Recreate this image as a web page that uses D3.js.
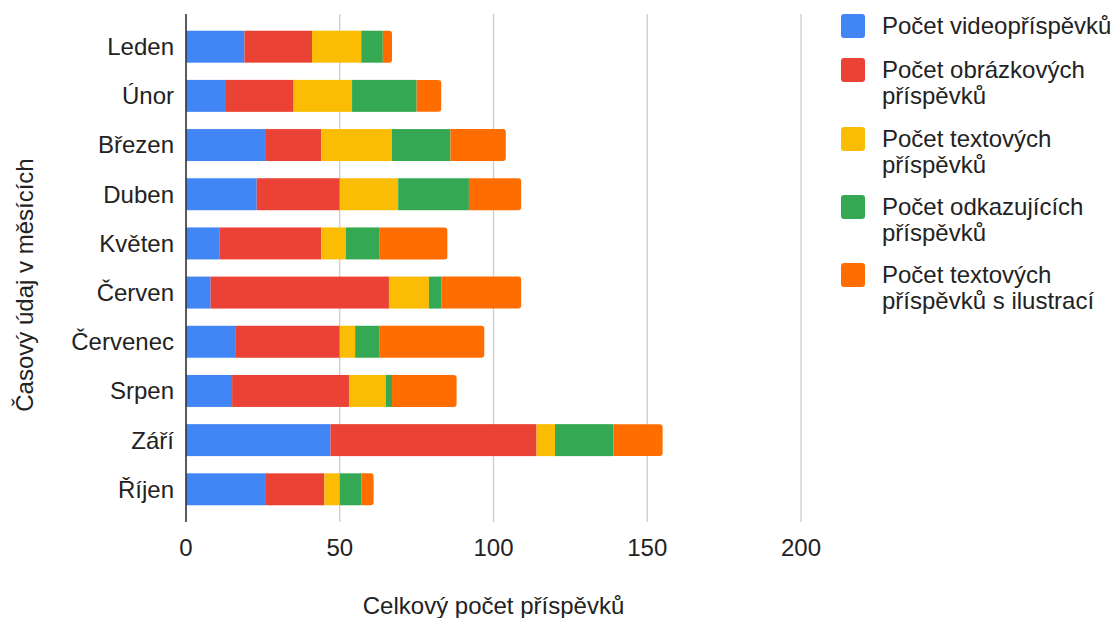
<!DOCTYPE html>
<html lang="cs">
<head>
  <meta charset="UTF-8">
  <title>Příspěvky podle měsíců</title>
  <script src="https://d3js.org/d3.v7.min.js"></script>
  <style>
    body { margin: 0; background: #fff; }
    text { font-family: "Liberation Sans", Arial, sans-serif; fill: #222; }
  </style>
</head>
<body>

<div id="chart"></div>

<script>
  // data
  const months = ["Leden", "Únor", "Březen", "Duben", "Květen", "Červen", "Červenec", "Srpen", "Září", "Říjen"];
  const video    = [19, 13, 26, 23, 11,  8, 16, 15, 47, 26];
  const obrazky  = [22, 22, 18, 27, 33, 58, 34, 38, 67, 19];
  const texty    = [16, 19, 23, 19,  8, 13,  5, 12,  6,  5];
  const odkazy   = [ 7, 21, 19, 23, 11,  4,  8,  2, 19,  7];
  const ilustr   = [ 3,  8, 18, 17, 22, 26, 34, 21, 16,  4];
  const seriesNames = [
    ["Počet videopříspěvků"],
    ["Počet obrázkových", "příspěvků"],
    ["Počet textových", "příspěvků"],
    ["Počet odkazujících", "příspěvků"],
    ["Počet textových", "příspěvků s ilustrací"]
  ];
  const xTicks = [0, 50, 100, 150, 200];
  const colors = ["#4285f4", "#ea4335", "#fbbc04", "#34a853", "#ff6d01"];

  const width = 1114, height = 618;
  const plotLeft = 186, plotRight = 801, plotTop = 14, plotBottom = 522;
  const fs = 24;

  const keys = ["video", "obrazky", "texty", "odkazy", "ilustr"];
  const rows = months.map((m, i) => ({
    month: m, video: video[i], obrazky: obrazky[i], texty: texty[i], odkazy: odkazy[i], ilustr: ilustr[i]
  }));
  const stacked = d3.stack().keys(keys)(rows);

  const svg = d3.select("#chart").append("svg")
    .attr("width", width)
    .attr("height", height);

  const x = d3.scaleLinear().domain([0, 200]).range([plotLeft, plotRight]);
  const y = d3.scaleBand().domain(months).range([plotTop, plotBottom])
    .paddingInner(0.35).paddingOuter(0.34);

  // gridlines
  svg.append("g").selectAll("line")
    .data(xTicks.slice(1))
    .join("line")
    .attr("x1", d => x(d)).attr("x2", d => x(d))
    .attr("y1", plotTop).attr("y2", plotBottom)
    .attr("stroke", "#cccccc").attr("stroke-width", 1.3);

  // bars, last segment gets rounded right end
  const lastKey = keys.length - 1;
  const r = 3;
  svg.append("g").selectAll("g")
    .data(stacked)
    .join("g")
    .attr("fill", (d, i) => colors[i])
    .each(function(layer, li) {
      const g = d3.select(this);
      layer.forEach(seg => {
        const x0 = x(seg[0]), x1 = x(seg[1]);
        const y0 = y(seg.data.month), h = y.bandwidth();
        if (li === lastKey) {
          const rr = Math.min(r, (x1 - x0) / 2);
          const p = d3.path();
          p.moveTo(x0, y0);
          p.lineTo(x1 - rr, y0);
          p.arcTo(x1, y0, x1, y0 + rr, rr);
          p.lineTo(x1, y0 + h - rr);
          p.arcTo(x1, y0 + h, x1 - rr, y0 + h, rr);
          p.lineTo(x0, y0 + h);
          p.closePath();
          g.append("path").attr("d", p.toString());
        } else {
          g.append("rect")
            .attr("x", x0).attr("y", y0)
            .attr("width", x1 - x0).attr("height", h);
        }
      });
    });

  // baseline axis
  svg.append("line")
    .attr("x1", plotLeft).attr("x2", plotLeft)
    .attr("y1", plotTop).attr("y2", plotBottom)
    .attr("stroke", "#333").attr("stroke-width", 1.6);

  // x tick labels
  svg.append("g").selectAll("text")
    .data(xTicks)
    .join("text")
    .attr("x", d => x(d))
    .attr("y", 556)
    .attr("text-anchor", "middle")
    .style("font-size", fs + "px")
    .text(d => d);

  // category labels
  svg.append("g").selectAll("text")
    .data(months)
    .join("text")
    .attr("x", 174)
    .attr("y", d => y(d) + y.bandwidth() / 2)
    .attr("dy", "0.35em")
    .attr("text-anchor", "end")
    .style("font-size", fs + "px")
    .text(d => d);

  // axis titles
  svg.append("text")
    .attr("x", (plotLeft + plotRight) / 2)
    .attr("y", 614)
    .attr("text-anchor", "middle")
    .style("font-size", fs + "px")
    .text("Celkový počet příspěvků");

  svg.append("text")
    .attr("transform", "translate(33, 285) rotate(-90)")
    .attr("text-anchor", "middle")
    .style("font-size", fs + "px")
    .text("Časový údaj v měsících");

  // legend
  const legendTops = [14, 58, 127, 195, 263];
  const legend = svg.append("g").selectAll("g")
    .data(seriesNames)
    .join("g")
    .attr("transform", (d, i) => `translate(841, ${legendTops[i]})`);

  legend.append("rect")
    .attr("width", 24).attr("height", 24)
    .attr("rx", 3)
    .attr("fill", (d, i) => colors[i]);

  legend.append("text")
    .attr("x", 41)
    .style("font-size", fs + "px")
    .selectAll("tspan")
    .data(d => d)
    .join("tspan")
    .attr("x", 41)
    .attr("y", (d, i) => 12 + i * 26)
    .attr("dy", "0.35em")
    .text(d => d);
</script>

</body>
</html>
